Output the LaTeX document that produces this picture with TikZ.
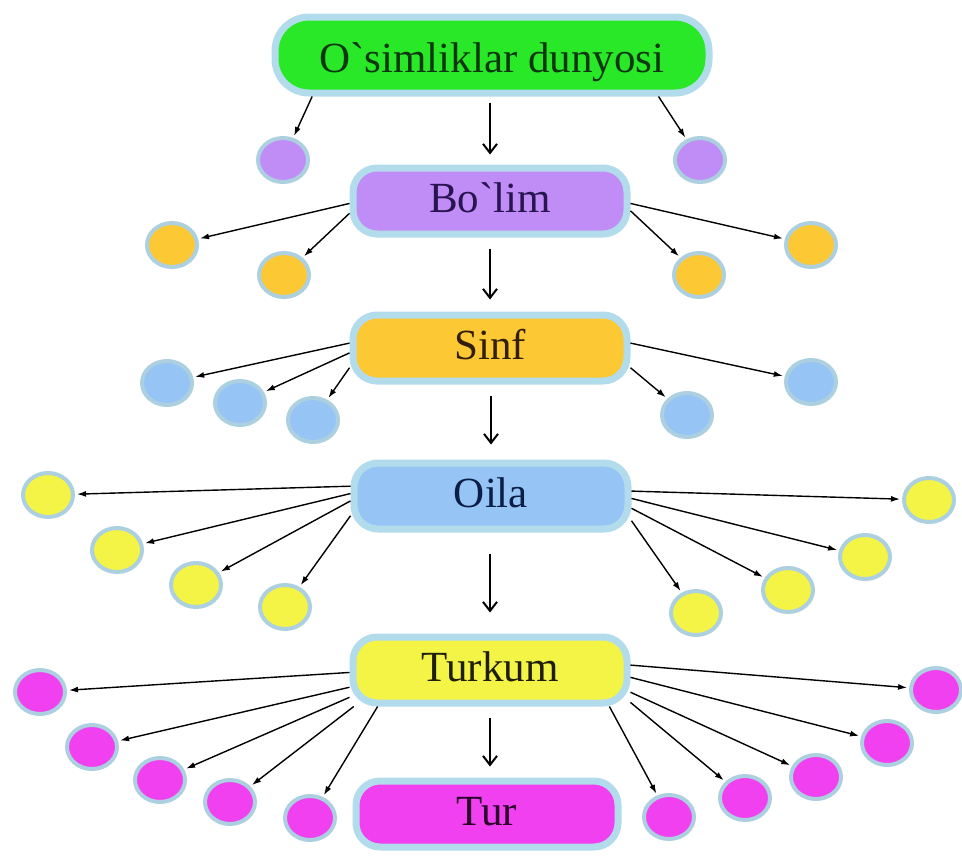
\documentclass[tikz,border=0pt]{standalone}
\usepackage{fontspec}
\newfontfamily\tnr{Liberation Serif}
\usetikzlibrary{arrows.meta,shapes.geometric}
\definecolor{glow}{RGB}{178,220,236}
\definecolor{dotglow}{RGB}{172,208,224}
\definecolor{cgreen}{RGB}{40,232,40}
\definecolor{cpurple}{RGB}{192,140,245}
\definecolor{corange}{RGB}{252,200,52}
\definecolor{cblue}{RGB}{150,196,245}
\definecolor{cyellow}{RGB}{244,244,70}
\definecolor{cmag}{RGB}{240,64,240}
\begin{document}
\begin{tikzpicture}[x=1pt,y=-1pt,
  box/.style={rounded corners=24pt, draw=glow, line width=7pt, minimum width=274pt,
    minimum height=66pt, inner sep=0pt, text height=30pt, text depth=8pt,
    font=\tnr\fontsize{43}{48}\selectfont, text=black!90},
  dot/.style={ellipse, draw=dotglow, line width=4pt, minimum width=50pt,
    minimum height=44pt, inner sep=0pt},
  arr/.style={-{Latex[length=9pt,width=6pt]}, line width=1.4pt, shorten >=2pt},
  downarr/.style={-{Straight Barb[length=9pt,width=14pt,line width=2pt]}, line width=2.2pt}]
\useasboundingbox (0,0) rectangle (962,857);
\fill[white] (0,0) rectangle (962,857);

% main boxes
\node[box, fill=cgreen, minimum width=434pt, minimum height=76pt, rounded corners=34pt, text height=34pt, text depth=0pt, text={rgb,255:red,15;green,55;blue,15}] (top) at (492,55) {O`simliklar dunyosi};
\node[box, fill=cpurple, text={rgb,255:red,40;green,20;blue,80}] (bolim) at (490,201) {Bo`lim};
\node[box, fill=corange, text={rgb,255:red,50;green,30;blue,10}] (sinf) at (490,348) {Sinf};
\node[box, fill=cblue, text={rgb,255:red,10;green,30;blue,70}] (oila) at (491,496) {Oila};
\node[box, fill=cyellow, text={rgb,255:red,30;green,30;blue,10}] (turkum) at (490,670) {Turkum};
\node[box, fill=cmag, minimum width=262pt, text={rgb,255:red,40;green,0;blue,40}] (tur) at (487,814) {Tur};

% purple dots
\node[dot, fill=cpurple] (p1) at (283,160) {};
\node[dot, fill=cpurple] (p2) at (700,160) {};
% orange dots
\node[dot, fill=corange] (o1) at (172,245) {};
\node[dot, fill=corange] (o2) at (284,275) {};
\node[dot, fill=corange] (o3) at (699,275) {};
\node[dot, fill=corange] (o4) at (811,245) {};
% blue dots
\node[dot, fill=cblue] (c1) at (167,383) {};
\node[dot, fill=cblue] (c2) at (240,403) {};
\node[dot, fill=cblue] (c3) at (313,420) {};
\node[dot, fill=cblue] (c4) at (687,415) {};
\node[dot, fill=cblue] (c5) at (811,382) {};
% yellow dots
\node[dot, fill=cyellow] (y1) at (48,495) {};
\node[dot, fill=cyellow] (y2) at (117,550) {};
\node[dot, fill=cyellow] (y3) at (196,585) {};
\node[dot, fill=cyellow] (y4) at (285,607) {};
\node[dot, fill=cyellow] (y5) at (696,613) {};
\node[dot, fill=cyellow] (y6) at (788,590) {};
\node[dot, fill=cyellow] (y7) at (865,557) {};
\node[dot, fill=cyellow] (y8) at (929,500) {};
% magenta dots
\node[dot, fill=cmag] (m1) at (40,692) {};
\node[dot, fill=cmag] (m2) at (92,747) {};
\node[dot, fill=cmag] (m3) at (160,780) {};
\node[dot, fill=cmag] (m4) at (230,802) {};
\node[dot, fill=cmag] (m5) at (310,818) {};
\node[dot, fill=cmag] (m6) at (669,817) {};
\node[dot, fill=cmag] (m7) at (745,798) {};
\node[dot, fill=cmag] (m8) at (816,777) {};
\node[dot, fill=cmag] (m9) at (887,743) {};
\node[dot, fill=cmag] (m10) at (936,690) {};

% vertical arrows
\draw[downarr, shorten <=6pt, shorten >=10pt] (bolim.north |- top.south) -- (bolim.north);
\draw[downarr, shorten <=11pt, shorten >=12pt] (sinf.north |- bolim.south) -- (sinf.north);
\draw[downarr, shorten <=11pt, shorten >=15pt] (oila.north |- sinf.south) -- (oila.north);
\draw[downarr, shorten <=21pt, shorten >=21pt] (turkum.north |- oila.south) -- (turkum.north);
\draw[downarr, shorten <=11pt, shorten >=11pt] (turkum.south) -- (turkum.south |- tur.north);

% branch arrows
\draw[arr] (top.193) -- (p1);
\draw[arr] (top.346) -- (p2);

\draw[arr] (bolim.181) -- (o1);
\draw[arr] (bolim.185) -- (o2);
\draw[arr] (bolim.356) -- (o3);
\draw[arr] (bolim.359) -- (o4);

\draw[arr] (sinf.178) -- (c1);
\draw[arr] (sinf.182) -- (c2);
\draw[arr] (sinf.188) -- (c3);
\draw[arr] (sinf.352) -- (c4);
\draw[arr] (sinf.2) -- (c5);

\draw[arr] (oila.176) -- (y1);
\draw[arr] (oila.179) -- (y2);
\draw[arr] (oila.182) -- (y3);
\draw[arr] (oila.188) -- (y4);
\draw[arr] (oila.350) -- (y5);
\draw[arr] (oila.355) -- (y6);
\draw[arr] (oila.359) -- (y7);
\draw[arr] (oila.2) -- (y8);

\draw[arr] (turkum.181) -- (m1);
\draw[arr] (turkum.187) -- (m2);
\draw[arr] (turkum.191) -- (m3);
\draw[arr] (turkum.195) -- (m4);
\draw[arr] (turkum.198) -- (m5);
\draw[arr] (turkum.343) -- (m6);
\draw[arr] (turkum.347) -- (m7);
\draw[arr] (turkum.351) -- (m8);
\draw[arr] (turkum.357) -- (m9);
\draw[arr] (turkum.2) -- (m10);
\end{tikzpicture}
\end{document}
